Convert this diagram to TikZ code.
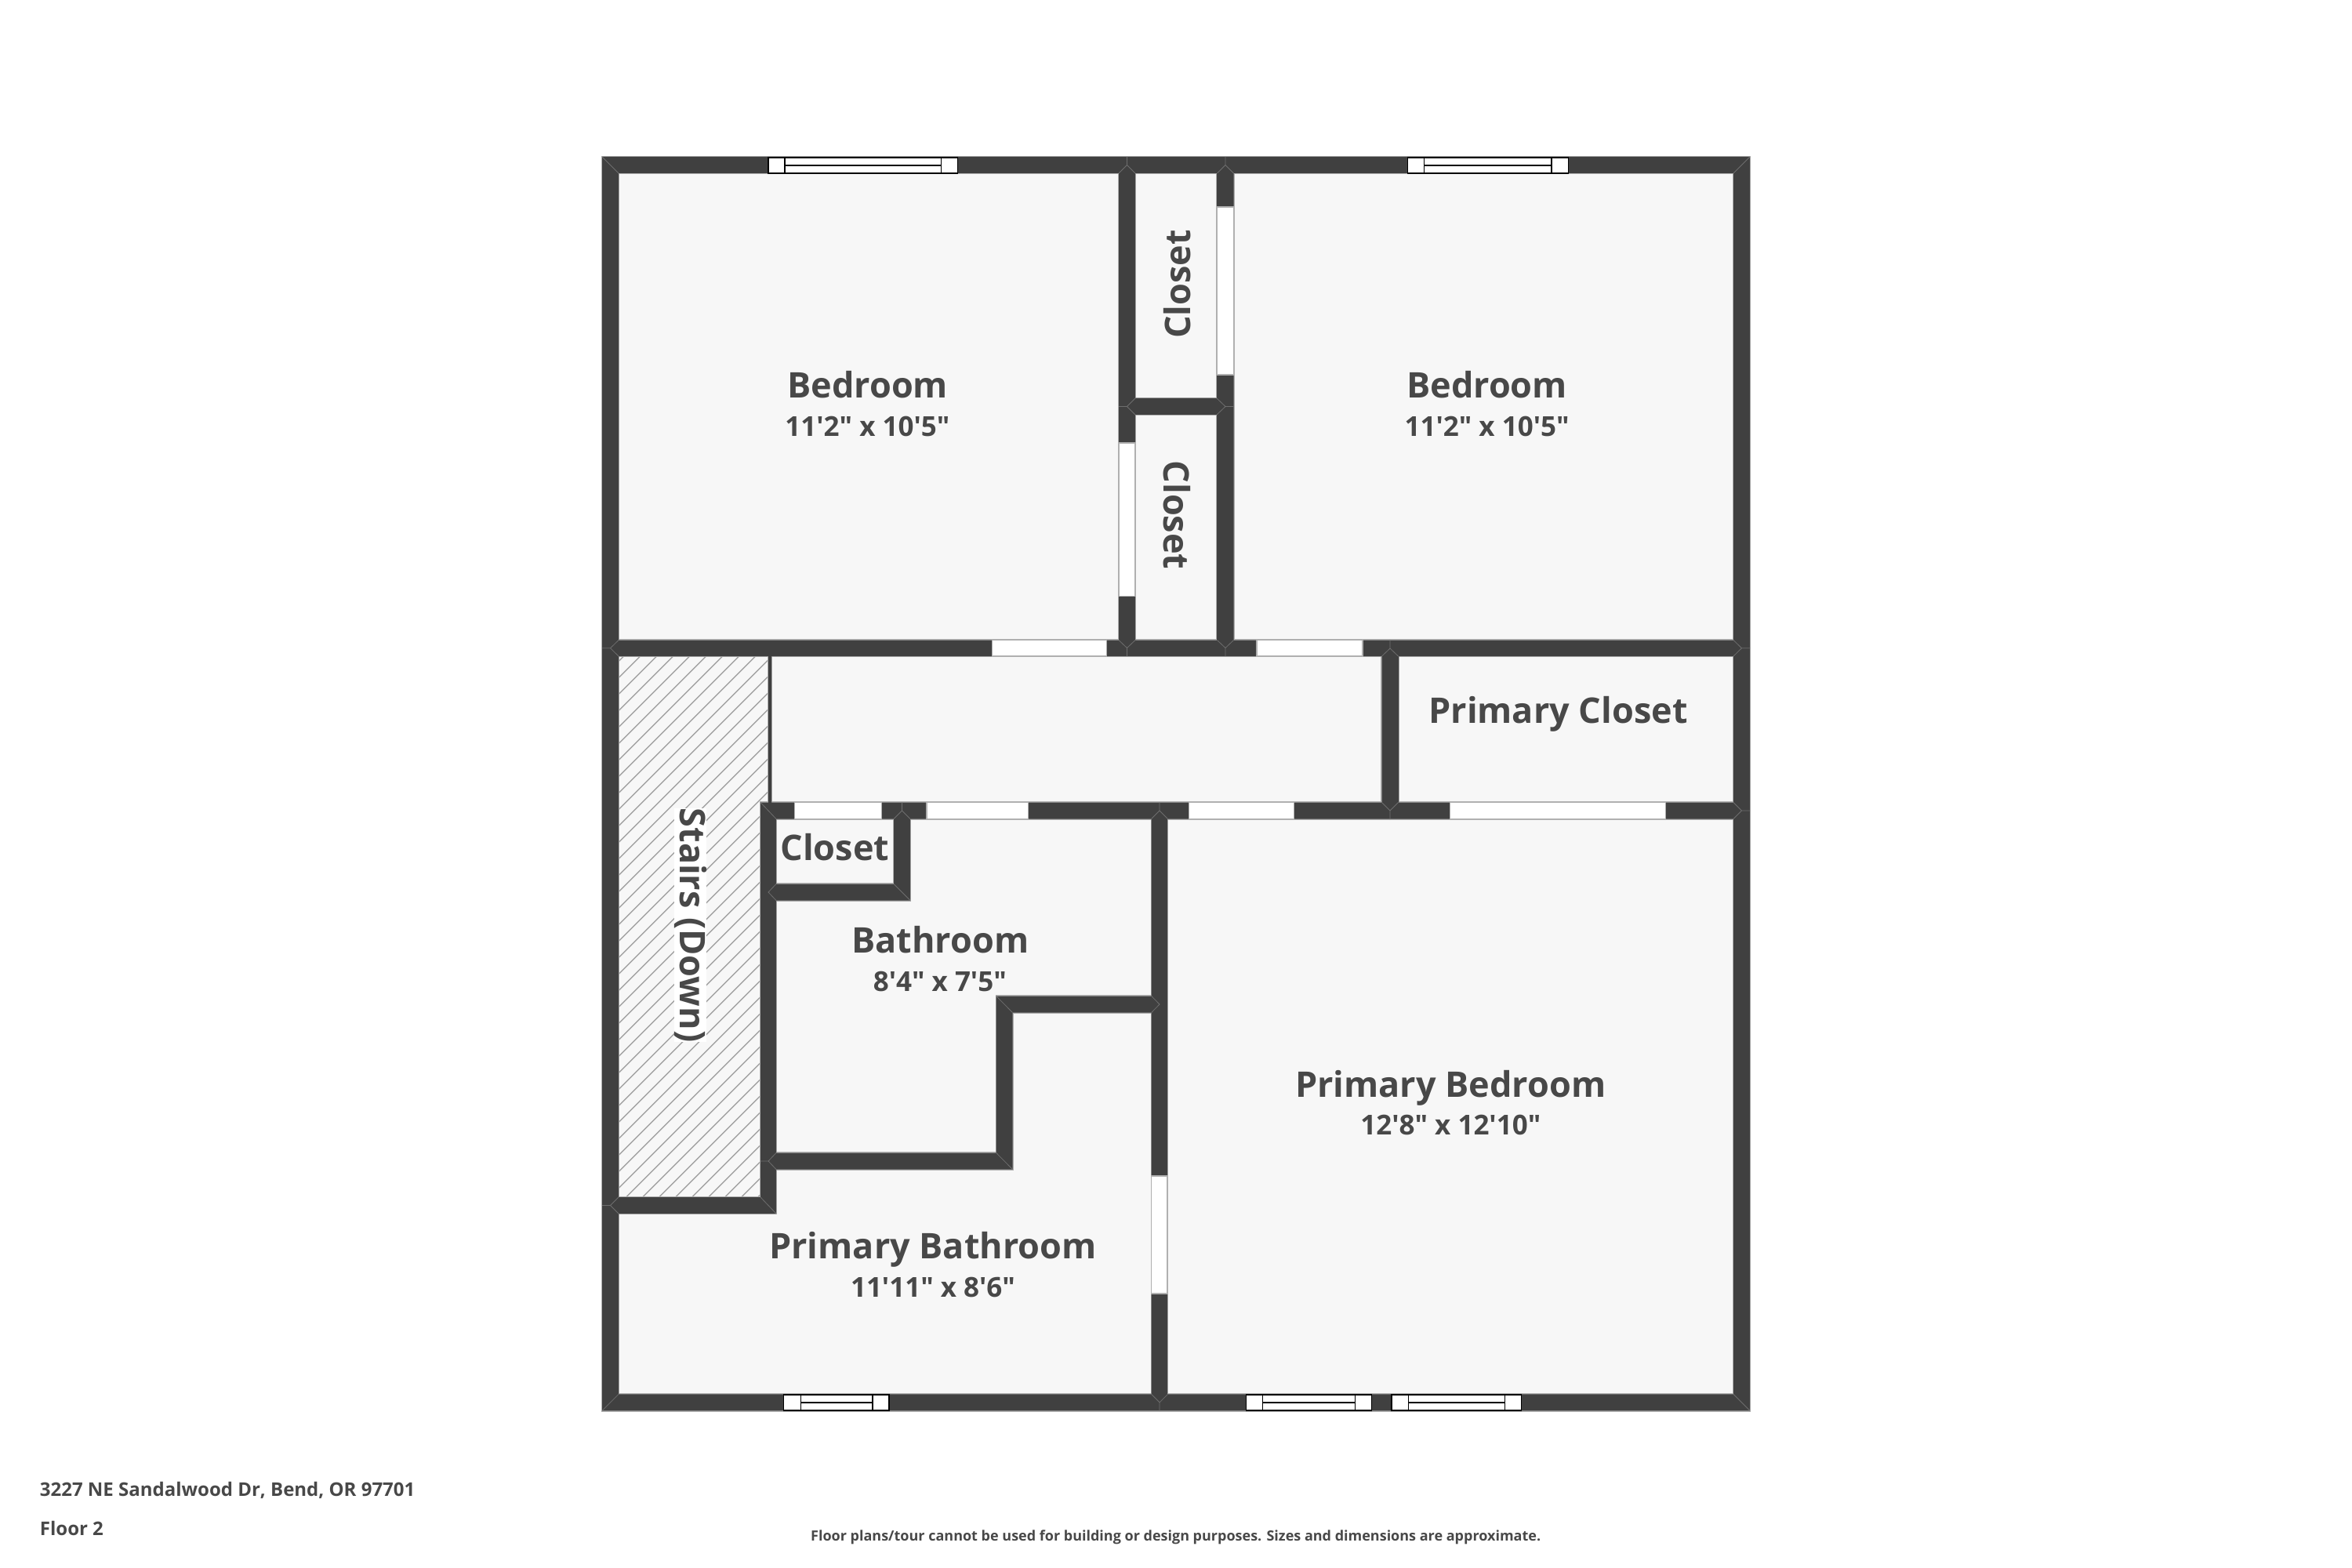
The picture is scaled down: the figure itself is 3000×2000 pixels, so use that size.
\documentclass[tikz,border=0pt]{standalone}
\usepackage{fontspec}
\setmainfont{Open Sans}[Ligatures=TeXOff]
\definecolor{wallc}{HTML}{404040}
\definecolor{roomc}{HTML}{F7F7F7}
\definecolor{edgec}{HTML}{B0B0B0}
\definecolor{seamc}{HTML}{6E6E6E}
\definecolor{hatchc}{HTML}{A2A2A2}
\definecolor{textc}{HTML}{484848}
\newcommand{\wallrects}{
  (768,200) rectangle (2232,221)
  (768,1778.3) rectangle (2232,1799.3)
  (768,200) rectangle (789,1799.3)
  (2211,200) rectangle (2232,1799.3)
  (768,816.5) rectangle (2232,837)
  (1427,200) rectangle (1448,837)
  (1552,200) rectangle (1573.5,837)
  (1427,508) rectangle (1573.5,529)
  (1762.5,816.5) rectangle (1784,1044.5)
  (970,1023.5) rectangle (2232,1044.5)
  (970,1023.5) rectangle (990,1548)
  (768,1527) rectangle (990,1548)
  (1140,1023.5) rectangle (1161,1148.5)
  (970,1127.5) rectangle (1161,1148.5)
  (970,1470.5) rectangle (1291.5,1491.5)
  (1270.7,1270.5) rectangle (1291.5,1491.5)
  (1270.7,1270.5) rectangle (1489,1291.5)
  (1468.7,1023.5) rectangle (1489,1799.3)
  (980,816.5) rectangle (984,1023.5)
}
\newcommand{\windowunit}[4]{% x1, divider1, divider2, x2 ; uses \wya \wyb
  \filldraw[windowbox] (#1,\wya) rectangle (#4,\wyb);
  \draw[windowbox] (#2,\wya) -- (#2,\wyb) (#3,\wya) -- (#3,\wyb);
  \draw[windowbox] (#2,{(\wya+\wyb)/2}) -- (#3,{(\wya+\wyb)/2});
}
\newcommand{\junctdown}[3]{% cx, y top, y bottom: T whose stem enters from the top wall
  \draw[seam] (#1,#2) -- (#1,{#2+10.5}) (#1-10.5,#3) -- (#1,{#2+10.5}) -- (#1+10.5,#3);
}
\newcommand{\junctup}[3]{% cx, y top, y bottom: wall ends on the wall below
  \draw[seam] (#1,#3) -- (#1,{#3-10.5}) (#1-10.5,#2) -- (#1,{#3-10.5}) -- (#1+10.5,#2);
}
\begin{document}
\begin{tikzpicture}[x=0.5pt,y=-0.5pt,
  roomfloor/.style={fill=roomc},
  wallfill/.style={fill=wallc},
  walledge/.style={draw=edgec,line width=1.2pt},
  seam/.style={draw=seamc,line width=0.4pt},
  hatchline/.style={draw=hatchc,line width=0.7pt},
  doorway/.style={fill=white,draw=edgec,line width=0.6pt},
  windowbox/.style={fill=white,draw=black,line width=0.7pt},
  roomname/.style={font=\bfseries\fontsize{22.5}{26}\selectfont,text=textc,inner sep=0pt,anchor=base},
  roomsize/.style={font=\bfseries\fontsize{17.5}{21}\selectfont,text=textc,inner sep=0pt,anchor=base},
  foot/.style={font=\bfseries\fontsize{12}{14}\selectfont,text=textc,inner sep=0pt,anchor=base west},
  disclaimer/.style={font=\bfseries\fontsize{9}{11}\selectfont,text=textc,inner sep=0pt,anchor=base}]
\useasboundingbox (0,0) rectangle (3000,2000);
\fill[white] (0,0) rectangle (3000,2000);
\fill[roomfloor] (768,200) rectangle (2232,1799.3);
% stairs hatch
\begin{scope}
  \clip (789,837) -- (982,837) -- (982,1023.5) -- (970,1023.5) -- (970,1527) -- (789,1527) -- cycle;
  \foreach \k in {-3,...,45} {
    \draw[hatchline] ({1674.6+21*\k-700},700) -- ({1674.6+21*\k-1700},1700);
  }
\end{scope}
% walls
\path[walledge] \wallrects;
\fill[wallfill] \wallrects;
% seams
\draw[seam] (768,200) -- (789,221) (2232,200) -- (2211,221) (768,1799.3) -- (789,1778.3) (2232,1799.3) -- (2211,1778.3);
\junctdown{1437.5}{200}{221}
\junctdown{1563}{200}{221}
\junctup{1437.5}{816.5}{837}
\junctup{1563}{816.5}{837}
\junctdown{1773}{816.5}{837}
\junctup{1773}{1023.5}{1044.5}
\junctdown{1479}{1023.5}{1044.5}
\junctdown{1150.5}{1023.5}{1044.5}
\junctup{1479}{1778.3}{1799.3}
\draw[seam] (1427,518.5) -- (1437.5,518.5) (1448,508) -- (1437.5,518.5) -- (1448,529);
\draw[seam] (1573.5,518.5) -- (1563,518.5) (1552,508) -- (1563,518.5) -- (1552,529);
\draw[seam] (768,826.7) -- (778.5,826.7) (789,816.5) -- (778.5,826.7) -- (789,837);
\draw[seam] (2232,826.7) -- (2221.5,826.7) (2211,816.5) -- (2221.5,826.7) -- (2211,837);
\draw[seam] (2232,1034) -- (2221.5,1034) (2211,1023.5) -- (2221.5,1034) -- (2211,1044.5);
\draw[seam] (970,1023.5) -- (990,1044.5) (1140,1127.5) -- (1161,1148.5);
\draw[seam] (990,1127.5) -- (980,1138) -- (990,1148.5);
\draw[seam] (970,1481) -- (980,1481) (990,1470.5) -- (980,1481) -- (990,1491.5);
\draw[seam] (1270.7,1470.5) -- (1291.5,1491.5) (1270.7,1270.5) -- (1291.5,1291.5);
\draw[seam] (1468.7,1270.5) -- (1479,1281) -- (1468.7,1291.5);
\draw[seam] (970,1527) -- (990,1548);
\draw[seam] (768,1537.5) -- (778.5,1537.5) (789,1527) -- (778.5,1537.5) -- (789,1548);
% doorways
\path[doorway] (1265.7,816.5) rectangle (1411.6,837);
\path[doorway] (1603,816.5) rectangle (1738,837);
\path[doorway] (1013.6,1023.5) rectangle (1124.8,1044.5);
\path[doorway] (1182,1023.5) rectangle (1311.5,1044.5);
\path[doorway] (1516.4,1023.5) rectangle (1650.8,1044.5);
\path[doorway] (1849.5,1023.5) rectangle (2124.5,1044.5);
\path[doorway] (1552,264) rectangle (1573.5,478);
\path[doorway] (1427,565) rectangle (1448,760.5);
\path[doorway] (1468.7,1500) rectangle (1489,1650);
% windows
\def\wya{201}\def\wyb{221}
\windowunit{980}{1001}{1200.3}{1221.5}
\windowunit{1795.6}{1816.4}{1979.1}{2000.4}
\def\wya{1779}\def\wyb{1799}
\windowunit{999.3}{1021.2}{1113}{1134}
\windowunit{1589.2}{1610.4}{1728.5}{1749.6}
\windowunit{1775}{1796.7}{1919.6}{1940.7}
% labels
\node[roomname] (bedA) at (1106.7,507.5) {Bedroom};
\node[roomsize] (bedAs) at (1106.4,556.5) {11'2" x 10'5"};
\node[roomname] (bedB) at (1896.6,507.5) {Bedroom};
\node[roomsize] (bedBs) at (1896.6,556.5) {11'2" x 10'5"};
\node[roomname,rotate=90] (closetA) at (1518,362.5) {Closet};
\node[roomname,rotate=-90] (closetB) at (1484,657) {Closet};
\node[roomname] (primcl) at (1987.5,922.5) {Primary Closet};
\node[roomname,rotate=-90,fill=white] (stairs) at (867,1180) {Stairs (Down)};
\node[roomname] (closetC) at (1064.8,1097) {Closet};
\node[roomname] (bath) at (1199.3,1215) {Bathroom};
\node[roomsize] (baths) at (1198.8,1264) {8'4" x 7'5"};
\node[roomname] (primb) at (1190,1605) {Primary Bathroom};
\node[roomsize] (primbs) at (1190,1654) {11'11" x 8'6"};
\node[roomname] (primr) at (1850.3,1399) {Primary Bedroom};
\node[roomsize] (primrs) at (1850.3,1447.5) {12'8" x 12'10"};
\node[foot] (addr) at (50.5,1908) {3227 NE Sandalwood Dr, Bend, OR 97701};
\node[foot] (floor) at (50.5,1958) {Floor 2};
\node[disclaimer] (disc) at (1499.7,1965.5) {Floor plans/tour cannot be used for building or design purposes. Sizes and dimensions are approximate.};
\end{tikzpicture}
\end{document}
